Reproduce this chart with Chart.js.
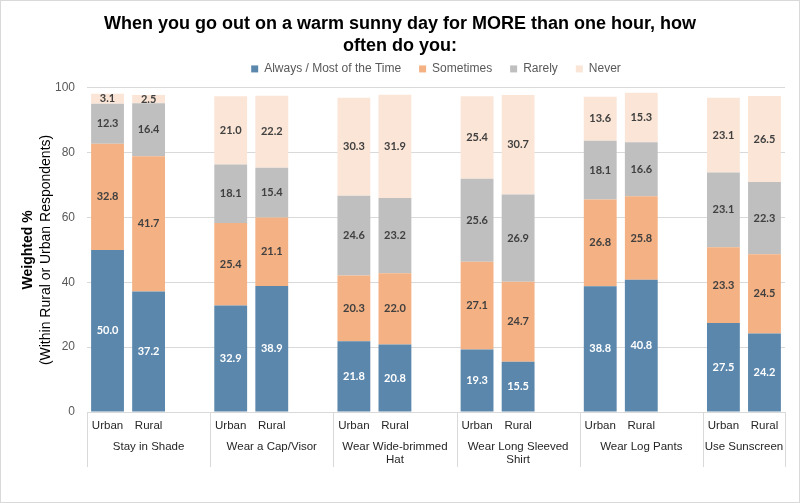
<!DOCTYPE html>
<html>
<head>
<meta charset="utf-8">
<script src="https://cdn.jsdelivr.net/npm/chart.js@4/dist/chart.umd.min.js"></script>
<style>
  html, body { margin: 0; padding: 0; background: #fff; }
  #wrap { width: 800px; height: 503px; position: relative; }
</style>
</head>
<body>
<div id="wrap"><canvas id="chart" width="800" height="503"></canvas></div>
<script>
// categories: Urban / Rural per behaviour, blank slot between groups
var groups = ['Stay in Shade', 'Wear a Cap/Visor', ['Wear Wide-brimmed', 'Hat'], ['Wear Long Sleeved', 'Shirt'], 'Wear Log Pants', 'Use Sunscreen'];
var categories = ['Urban', 'Rural', '', 'Urban', 'Rural', '', 'Urban', 'Rural', '', 'Urban', 'Rural', '', 'Urban', 'Rural', '', 'Urban', 'Rural'];

var alwaysVals    = [50.0, 37.2, null, 32.9, 38.9, null, 21.8, 20.8, null, 19.3, 15.5, null, 38.8, 40.8, null, 27.5, 24.2];
var sometimesVals = [32.8, 41.7, null, 25.4, 21.1, null, 20.3, 22.0, null, 27.1, 24.7, null, 26.8, 25.8, null, 23.3, 24.5];
var rarelyVals    = [12.3, 16.4, null, 18.1, 15.4, null, 24.6, 23.2, null, 25.6, 26.9, null, 18.1, 16.6, null, 23.1, 22.3];
var neverVals     = [3.1, 2.5, null, 21.0, 22.2, null, 30.3, 31.9, null, 25.4, 30.7, null, 13.6, 15.3, null, 23.1, 26.5];

var yTicks = [0, 20, 40, 60, 80, 100];

var FONT = '"Liberation Sans", Arial, sans-serif';
var LABEL_FONT = 'Lato, "Open Sans", sans-serif';

// value labels inside each segment
var valueLabels = {
  id: 'valueLabels',
  afterDatasetsDraw: function(chart) {
    var ctx = chart.ctx;
    ctx.save();
    ctx.font = 'bold 11px ' + LABEL_FONT;
    ctx.textAlign = 'center';
    ctx.textBaseline = 'middle';
    chart.data.datasets.forEach(function(ds, di) {
      var meta = chart.getDatasetMeta(di);
      meta.data.forEach(function(bar, i) {
        var v = ds.data[i];
        if (v === null || v === undefined) return;
        ctx.fillStyle = di === 0 ? '#ffffff' : '#404040';
        ctx.fillText(v.toFixed(1), bar.x, (bar.y + bar.base) / 2);
      });
    });
    ctx.restore();
  }
};

// two-level x axis, y title and outer frame
var decorations = {
  id: 'decorations',
  afterDraw: function(chart) {
    var ctx = chart.ctx;
    var x = chart.scales.x;
    var area = chart.chartArea;
    var step = (area.right - area.left) / categories.length;
    ctx.save();

    // separators
    ctx.strokeStyle = '#D9D9D9';
    ctx.lineWidth = 1;
    var seps = [area.left];
    for (var g = 0; g < groups.length; g++) {
      var endIdx = Math.min(g * 3 + 3, categories.length);
      seps.push(area.left + endIdx * step);
    }
    seps.forEach(function(sx) {
      var px = Math.round(sx) + 0.5;
      ctx.beginPath();
      ctx.moveTo(px, area.bottom);
      ctx.lineTo(px, area.bottom + 55);
      ctx.stroke();
    });

    // sub labels and group labels
    ctx.fillStyle = '#262626';
    ctx.font = '11.5px ' + FONT;
    ctx.textAlign = 'center';
    ctx.textBaseline = 'middle';
    categories.forEach(function(c, i) {
      if (!c) return;
      ctx.fillText(c, x.getPixelForValue(i), area.bottom + 14);
    });
    groups.forEach(function(name, g) {
      var cx = (seps[g] + seps[g + 1]) / 2;
      var lines = Array.isArray(name) ? name : [name];
      lines.forEach(function(line, li) {
        ctx.fillText(line, cx, area.bottom + 35 + li * 13);
      });
    });

    // y axis title
    var cy = (area.top + area.bottom) / 2;
    ctx.translate(28, cy);
    ctx.rotate(-Math.PI / 2);
    ctx.fillStyle = '#000000';
    ctx.font = 'bold 14px ' + FONT;
    ctx.fillText('Weighted %', 0, 0);
    ctx.font = '14px ' + FONT;
    ctx.fillText('(Within Rural or Urban Respondents)', 0, 18);
    ctx.setTransform(1, 0, 0, 1, 0, 0);

    // frame
    ctx.strokeStyle = '#D9D9D9';
    ctx.strokeRect(0.5, 0.5, chart.width - 1, chart.height - 1);
    ctx.restore();
  }
};

// empty axes used only to reserve space
function spacer(axis, pos, size) {
  return {
    type: 'linear',
    axis: axis,
    position: pos,
    display: true,
    grid: { display: false },
    border: { display: false },
    ticks: { display: false },
    afterFit: function(scale) {
      if (pos === 'top') scale.height = size; else scale.width = size;
    }
  };
}

new Chart(document.getElementById('chart'), {
  type: 'bar',
  data: {
    labels: categories,
    datasets: [
      { label: 'Always / Most of the Time', data: alwaysVals, backgroundColor: '#5B87AC', xAxisID: 'x', yAxisID: 'y' },
      { label: 'Sometimes', data: sometimesVals, backgroundColor: '#F4B183', xAxisID: 'x', yAxisID: 'y' },
      { label: 'Rarely', data: rarelyVals, backgroundColor: '#BFBFBF', xAxisID: 'x', yAxisID: 'y' },
      { label: 'Never', data: neverVals, backgroundColor: '#FBE5D6', xAxisID: 'x', yAxisID: 'y' }
    ]
  },
  options: {
    responsive: false,
    animation: false,
    layout: { padding: 0 },
    datasets: { bar: { categoryPercentage: 1.0, barPercentage: 0.8 } },
    plugins: {
      title: {
        display: true,
        text: ['When you go out on a warm sunny day for MORE than one hour, how', 'often do you:'],
        color: '#000000',
        font: { family: FONT, size: 18, weight: 'bold', lineHeight: 1.22 },
        padding: { top: 13, bottom: -12 }
      },
      legend: {
        position: 'top',
        fullSize: false,
        labels: {
          boxWidth: 7,
          boxHeight: 7,
          padding: 18,
          color: '#595959',
          font: { family: FONT, size: 12 }
        }
      },
      tooltip: { enabled: false }
    },
    scales: {
      x: {
        stacked: true,
        grid: { display: false },
        border: { display: false },
        ticks: { display: false },
        afterFit: function(scale) { scale.height = 91; }
      },
      y: {
        stacked: true,
        min: 0,
        max: 100,
        afterBuildTicks: function(scale) { scale.ticks = yTicks.map(function(v) { return { value: v }; }); },
        grid: { color: '#D9D9D9', drawTicks: false },
        border: { display: false },
        ticks: { color: '#595959', font: { family: FONT, size: 12 }, padding: 12 },
        afterFit: function(scale) { scale.width = 87; }
      },
      xTop: spacer('x', 'top', 3),
      yRight: spacer('y', 'right', 15)
    }
  },
  plugins: [valueLabels, decorations]
});
</script>
</body>
</html>
